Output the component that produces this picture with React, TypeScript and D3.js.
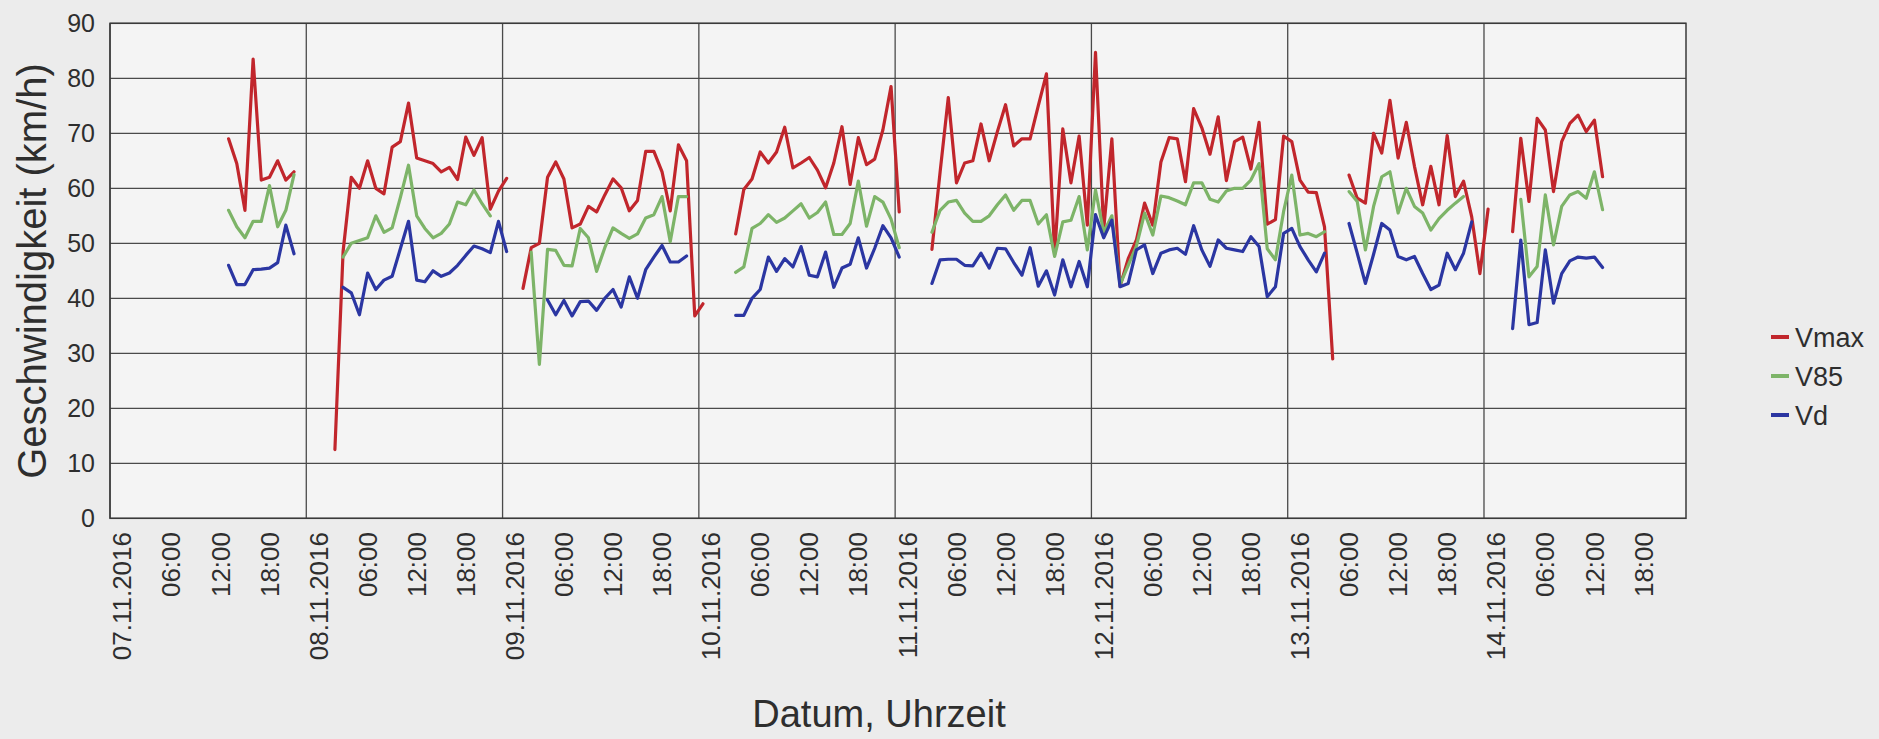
import React from "react";
import * as d3 from "d3";

const W = 1879;
const H = 739;
const HOUR = 3600 * 1000;
const START = Date.UTC(2016, 10, 7, 0, 0, 0);
const AXIS_END_HOURS = 192.7;

const Y_TICKS = [0, 10, 20, 30, 40, 50, 60, 70, 80, 90];
const SERIES_NAMES = ["Vmax", "V85", "Vd"];
const SERIES_COLORS = ["#c1262c", "#7db468", "#2b36a2"];

// hour index (since 07.11.2016 00:00) of the first value of each measuring block
const SEG_START = [14, 27, 50, 76, 100, 151, 171];

const VMAX = [
  [69, 64.5, 56, 83.5, 61.5, 62, 65, 61.5, 63],
  [12.5, 48.5, 62, 60, 65, 60, 59, 67.5, 68.5, 75.5, 65.5, 65, 64.5, 63, 63.8, 61.6, 69.3, 66, 69.2, 56.2, 59.5, 61.8],
  [41.8, 49.2, 50, 62, 64.8, 61.7, 52.8, 53.5, 56.7, 55.7, 58.8, 61.7, 60.1, 55.9, 57.8, 66.7, 66.7, 63, 55.9, 67.9, 65, 36.8, 39],
  [51.7, 59.8, 61.7, 66.6, 64.6, 66.6, 71.1, 63.7, 64.6, 65.6, 63.3, 60.1, 64.6, 71.2, 60.7, 69.2, 64.3, 65.3, 70.6, 78.5, 55.7],
  [48.9, 63, 76.5, 61, 64.6, 65, 71.7, 65, 70.3, 75.2, 67.7, 69, 69, 75, 80.8, 48, 70.8, 61, 69.5, 53.3, 84.7, 52.5, 69, 42.2, 47.2, 50.6, 57.3, 53.3, 64.8, 69.2, 69, 61.2, 74.5, 71, 66.2, 73, 61.4, 68.5, 69.3, 63.5, 72, 53.5, 54.3, 69.5, 68.5, 61.5, 59.3, 59.2, 53, 29],
  [62.4, 58.2, 57.3, 70, 66.4, 76, 65.5, 72, 64, 57, 64, 57, 69.6, 58.5, 61.3, 54.8, 44.5, 56.2],
  [52.1, 69.1, 57.6, 72.7, 70.6, 59.4, 68.5, 71.8, 73.3, 70.3, 72.4, 62.1],
];

const V85 = [
  [56, 53, 51, 54, 54, 60.5, 53, 56, 62.5],
  [null, 47.5, 50, 50.5, 51, 55, 52, 52.8, 58.3, 64.2, 55, 52.7, 51, 51.8, 53.5, 57.5, 57, 59.7, 57.2, 55, null, null],
  [null, 48.4, 28, 48.9, 48.7, 46, 45.9, 52.7, 51, 44.9, 49.2, 52.8, 51.8, 50.9, 51.7, 54.6, 55.2, 58.5, 50.3, 58.5, 58.5, null, null],
  [44.7, 45.7, 52.7, 53.6, 55.2, 53.8, 54.6, 55.9, 57.2, 54.6, 55.6, 57.5, 51.6, 51.6, 53.6, 61.3, 53.1, 58.5, 57.5, 54.4, 49.2],
  [52, 56, 57.5, 57.8, 55.5, 54, 54, 55, 57, 58.8, 56, 57.8, 57.8, 53.5, 55.2, 47.6, 53.9, 54.2, 58.5, 48.8, 59.7, 52, 55, 42.5, 46, 49.5, 55.5, 51.5, 58.6, 58.3, 57.7, 57, 61, 61, 58, 57.5, 59.5, 60, 60, 61.5, 64.5, 49, 47, 55.8, 62.4, 51.5, 51.8, 51.2, 52.1, null],
  [59.4, 57.6, 48.8, 56.7, 62.1, 63, 55.5, 60, 56.7, 55.5, 52.4, 54.5, 56, 57.3, 58.5, null, null, null],
  [null, 58, 43.9, 45.8, 58.8, 49.7, 56.7, 58.8, 59.4, 58.2, 63, 56.1],
];

const VD = [
  [46, 42.5, 42.5, 45.2, 45.3, 45.5, 46.5, 53.3, 48.1],
  [null, 42, 41, 37, 44.6, 41.6, 43.3, 44, 49, 54, 43.3, 43, 45, 44, 44.6, 46, 47.8, 49.5, 49, 48.3, 54, 48.5],
  [null, null, null, 39.7, 37, 39.6, 36.8, 39.4, 39.5, 37.8, 40, 41.6, 38.4, 43.9, 40, 45.2, 47.5, 49.6, 46.6, 46.6, 47.7, null, null],
  [36.9, 36.9, 40, 41.6, 47.5, 44.9, 47.2, 45.7, 49.4, 44.2, 43.9, 48.4, 42, 45.5, 46.2, 51, 45.5, 49.1, 53.2, 51, 47.5],
  [42.7, 47, 47.1, 47.1, 46, 45.9, 48.2, 45.5, 49.1, 49, 46.5, 44.2, 49.2, 42.2, 45, 40.6, 47, 42.1, 46.7, 42.1, 55.2, 51, 54.2, 42.1, 42.7, 48.8, 49.7, 44.5, 48.2, 48.8, 49.1, 48, 53.2, 48.8, 45.8, 50.6, 49.1, 48.8, 48.5, 51.2, 49.4, 40.3, 42.1, 51.8, 52.7, 49.4, 47, 44.8, 48.2, null],
  [53.6, 48.2, 42.7, 48, 53.6, 52.4, 47.6, 47, 47.6, 44.5, 41.6, 42.4, 48.2, 45.2, 48.2, 53.9, null, null],
  [34.5, 50.6, 35.2, 35.6, 48.8, 39.1, 44.5, 46.8, 47.5, 47.3, 47.5, 45.6],
];

const SERIES_DATA = [VMAX, V85, VD];

const PLOT = { left: 110, right: 1686, top: 23.3, bottom: 518.3 };
const FONT = "'Liberation Sans', Arial, sans-serif";
const TEXT_COLOR = "#2e2e2e";

type Pt = { t: Date; v: number | null };

function toPoints(segs: (number | null)[][]): Pt[][] {
  return segs.map((vals, si) =>
    vals.map((v, i) => ({
      t: new Date(START + (SEG_START[si] + i + 0.5) * HOUR),
      v,
    }))
  );
}

export default function App() {
  const x = d3
    .scaleUtc()
    .domain([new Date(START), new Date(START + AXIS_END_HOURS * HOUR)])
    .range([PLOT.left, PLOT.right]);
  const y = d3.scaleLinear().domain([0, 90]).range([PLOT.bottom, PLOT.top]);

  const line = d3
    .line<Pt>()
    .defined((d) => d.v !== null)
    .x((d) => x(d.t))
    .y((d) => y(d.v as number));

  const days = d3.utcDay.range(new Date(START), new Date(START + 8 * 24 * HOUR));
  const labelTicks = d3.utcHour
    .every(6)!
    .range(new Date(START), new Date(START + 8 * 24 * HOUR));
  const fmtDay = d3.utcFormat("%d.%m.%Y");
  const fmtHour = d3.utcFormat("%H:%M");

  const legendY = [337, 376, 415];

  return (
    <svg
      width={W}
      height={H}
      style={{ position: "absolute", left: 0, top: 0, display: "block" }}
      fontFamily={FONT}
    >
      <rect x={0} y={0} width={W} height={H} fill="#ececec" />
      <rect
        x={PLOT.left}
        y={PLOT.top}
        width={PLOT.right - PLOT.left}
        height={PLOT.bottom - PLOT.top}
        fill="#f4f4f4"
      />
      {Y_TICKS.map((t) => (
        <line
          key={"h" + t}
          x1={PLOT.left}
          x2={PLOT.right}
          y1={y(t)}
          y2={y(t)}
          stroke="#4a4a4a"
          strokeWidth={1.3}
        />
      ))}
      {days.map((d) => (
        <line
          key={"v" + d.getTime()}
          x1={x(d)}
          x2={x(d)}
          y1={PLOT.top}
          y2={PLOT.bottom}
          stroke="#4a4a4a"
          strokeWidth={1.3}
        />
      ))}
      <rect
        x={PLOT.left}
        y={PLOT.top}
        width={PLOT.right - PLOT.left}
        height={PLOT.bottom - PLOT.top}
        fill="none"
        stroke="#3a3a3a"
        strokeWidth={1.5}
      />
      {SERIES_DATA.map((segs, k) =>
        toPoints(segs).map((pts, si) => (
          <path
            key={SERIES_NAMES[k] + si}
            d={line(pts) || ""}
            fill="none"
            stroke={SERIES_COLORS[k]}
            strokeWidth={3.2}
            strokeLinejoin="round"
            strokeLinecap="round"
          />
        ))
      )}
      {Y_TICKS.map((t) => (
        <text
          key={"yt" + t}
          x={95}
          y={y(t)}
          dy="0.36em"
          textAnchor="end"
          fontSize={25}
          fill={TEXT_COLOR}
        >
          {t}
        </text>
      ))}
      {labelTicks.map((t) => (
        <text
          key={"xt" + t.getTime()}
          transform={`translate(${x(t) + 12},532) rotate(-90)`}
          textAnchor="end"
          dy="0.36em"
          fontSize={26}
          fill={TEXT_COLOR}
        >
          {t.getUTCHours() === 0 ? fmtDay(t) : fmtHour(t)}
        </text>
      ))}
      <text
        transform={`translate(46,271) rotate(-90)`}
        textAnchor="middle"
        fontSize={40}
        fill={TEXT_COLOR}
      >
        Geschwindigkeit (km/h)
      </text>
      <text x={879} y={727} textAnchor="middle" fontSize={38} fill={TEXT_COLOR}>
        Datum, Uhrzeit
      </text>
      {SERIES_NAMES.map((name, k) => (
        <g key={"lg" + name}>
          <line
            x1={1771}
            x2={1789}
            y1={legendY[k]}
            y2={legendY[k]}
            stroke={SERIES_COLORS[k]}
            strokeWidth={4}
          />
          <text
            x={1795}
            y={legendY[k]}
            dy="0.36em"
            fontSize={27}
            fill={TEXT_COLOR}
          >
            {name}
          </text>
        </g>
      ))}
    </svg>
  );
}
